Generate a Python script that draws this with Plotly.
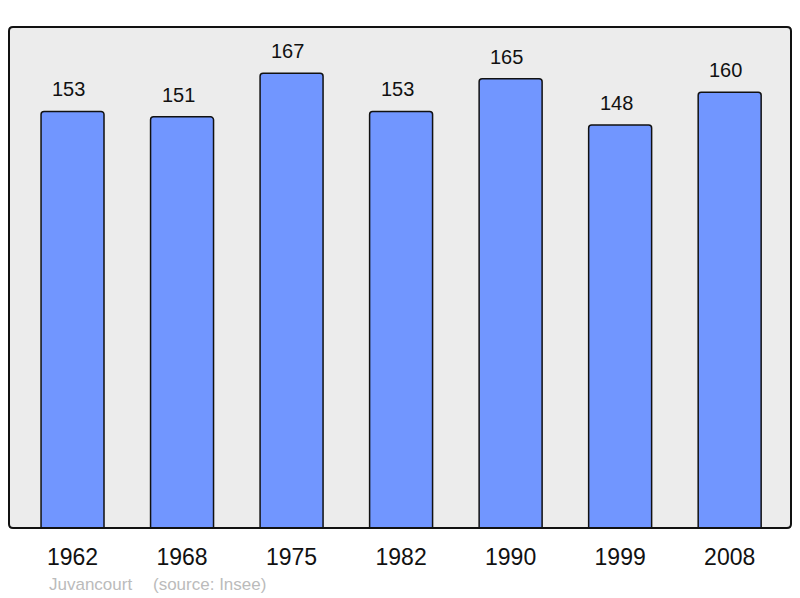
import plotly.graph_objects as go

annees = ['1962', '1968', '1975', '1982', '1990', '1999', '2008']
population = [153, 151, 167, 153, 165, 148, 160]
commune = 'Juvancourt'
source = '(source: Insee)'

fig = go.Figure()
fig.add_trace(go.Bar(
    x=annees, y=population,
    marker=dict(color='#7196ff', line=dict(color='#111111', width=1.5), cornerradius=3),
    width=0.575,
    hoverinfo='skip',
))

# valeurs au-dessus des barres (x = indice de catégorie)
for i, p in enumerate(population):
    fig.add_annotation(x=i, y=p, text=str(p), showarrow=False, yanchor='bottom', yshift=9, xshift=-4,
                       font=dict(family='Liberation Sans, Arial', size=20, color='#111111'))

fig.add_annotation(xref='paper', yref='paper', x=0.048, y=-0.112, xanchor='left', yanchor='middle',
                   text=commune, showarrow=False,
                   font=dict(family='Liberation Sans, Arial', size=17, color='#bbbbbb'))
fig.add_annotation(xref='paper', yref='paper', x=0.181, y=-0.112, xanchor='left', yanchor='middle',
                   text=source, showarrow=False,
                   font=dict(family='Liberation Sans, Arial', size=17, color='#bbbbbb'))

# cadre aux coins arrondis
rx, ry = 4 / 782, 4 / 501
cadre = (f'M {rx},0 L {1 - rx},0 Q 1,0 1,{ry} L 1,{1 - ry} Q 1,1 {1 - rx},1 '
         f'L {rx},1 Q 0,1 0,{1 - ry} L 0,{ry} Q 0,0 {rx},0 Z')
fig.add_shape(type='path', xref='paper', yref='paper', path=cadre,
              line=dict(color='#111111', width=2), layer='above')

# la page a une marge de 8 px : figure réduite d'autant
fig.update_layout(
    width=792, height=590,
    margin=dict(l=1, r=9, t=19, b=70),
    paper_bgcolor='white', plot_bgcolor='#ececec',
    showlegend=False,
    font=dict(family='Liberation Sans, Arial', color='#111111'),
    xaxis=dict(type='category', range=[-0.58, 6.56], showgrid=False, zeroline=False, ticks='outside',
               ticklen=8, tickcolor='rgba(0,0,0,0)', tickfont=dict(size=23)),
    yaxis=dict(range=[0, 184], showgrid=False, zeroline=False, showticklabels=False),
)

fig.write_html('out.html')
